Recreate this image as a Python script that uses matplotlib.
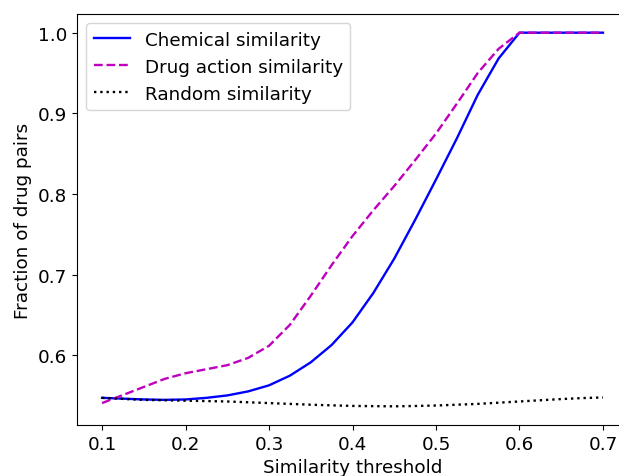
import matplotlib
matplotlib.use("Agg")
import matplotlib.pyplot as plt
import numpy as np

thresholds = [0.100, 0.125, 0.150, 0.175, 0.200, 0.225, 0.250, 0.275, 0.300,
              0.325, 0.350, 0.375, 0.400, 0.425, 0.450, 0.475, 0.500, 0.525,
              0.550, 0.575, 0.600, 0.625, 0.650, 0.675, 0.700]

chemical = [0.5475, 0.5465, 0.5455, 0.5450, 0.5455, 0.5475, 0.5505, 0.5555, 0.5630,
            0.5750, 0.5915, 0.6130, 0.6410, 0.6775, 0.7200, 0.7680, 0.8180, 0.8690,
            0.9230, 0.9680, 1.0, 1.0, 1.0, 1.0, 1.0]

drug_action = [0.541, 0.551, 0.561, 0.571, 0.578, 0.583, 0.588, 0.597, 0.612,
               0.638, 0.674, 0.712, 0.748, 0.780, 0.810, 0.842, 0.875, 0.912,
               0.950, 0.980, 1.0, 1.0, 1.0, 1.0, 1.0]

random_sim = [0.5475, 0.5462, 0.5450, 0.5445, 0.5440, 0.5435, 0.5430, 0.5420, 0.5410,
              0.5400, 0.5390, 0.5382, 0.5375, 0.5372, 0.5370, 0.5374, 0.5380, 0.5390,
              0.5400, 0.5415, 0.5430, 0.5445, 0.5460, 0.5472, 0.5480]

plt.rcParams["font.size"] = 13.2
plt.rcParams["lines.linewidth"] = 1.7

fig = plt.figure(figsize=(6.19, 4.77), dpi=100)
ax = fig.add_axes([77 / 619, 51 / 477, 551 / 619, 411 / 477])

ax.plot(thresholds, chemical, "b-", label="Chemical similarity")
ax.plot(thresholds, drug_action, "m--", label="Drug action similarity")
ax.plot(thresholds, random_sim, "k:", label="Random similarity")

ax.set_xlabel("Similarity threshold")
ax.set_ylabel("Fraction of drug pairs")
ax.legend(loc="upper left")

fig.savefig("out.png", dpi=100)
